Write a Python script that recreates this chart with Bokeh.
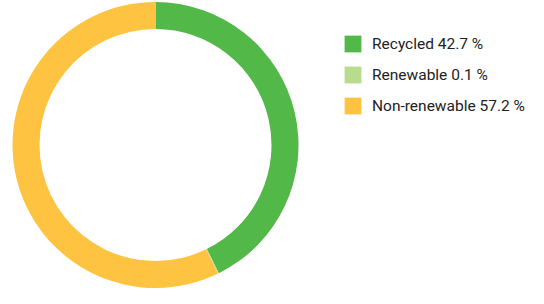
import math
from bokeh.plotting import figure
from bokeh.models import Range1d, Legend, LegendItem
from bokeh.embed import file_html
from bokeh.resources import INLINE

categories = ["Recycled", "Renewable", "Non-renewable"]
shares = [42.7, 0.1, 57.2]
colors = ["#52b848", "#b7dc8c", "#ffc342"]

W, H = 528, 288
p = figure(width=W, height=H, output_backend="svg", toolbar_location=None,
           x_range=Range1d(0, W), y_range=Range1d(0, H), min_border=0)
p.axis.visible = False
p.grid.visible = False
p.outline_line_color = None
p.background_fill_color = None
p.border_fill_color = None

total = sum(shares)
starts, ends = [], []
acc = 0.0
for s in shares:
    starts.append(math.pi / 2 - 2 * math.pi * acc / total)
    acc += s
    ends.append(math.pi / 2 - 2 * math.pi * acc / total)

cx, cy = 155, 143.5
items = []
for i in range(len(categories)):
    r = p.annular_wedge(x=cx, y=cy, inner_radius=116, outer_radius=143,
                        inner_radius_units="screen", outer_radius_units="screen",
                        start_angle=starts[i], end_angle=ends[i], direction="clock",
                        fill_color=colors[i], line_color=None)
    items.append(LegendItem(label=f"{categories[i]} {shares[i]} %", renderers=[r]))

legend = Legend(items=items, location=(342, 172), glyph_width=21, glyph_height=21,
                label_height=21, label_standoff=9, spacing=10, padding=0, margin=0,
                border_line_color=None, background_fill_alpha=0,
                label_text_font="Roboto", label_text_font_size="15.5px",
                label_text_color="#222222")
p.add_layout(legend)

open("out.html", "w").write(file_html(p, INLINE))
